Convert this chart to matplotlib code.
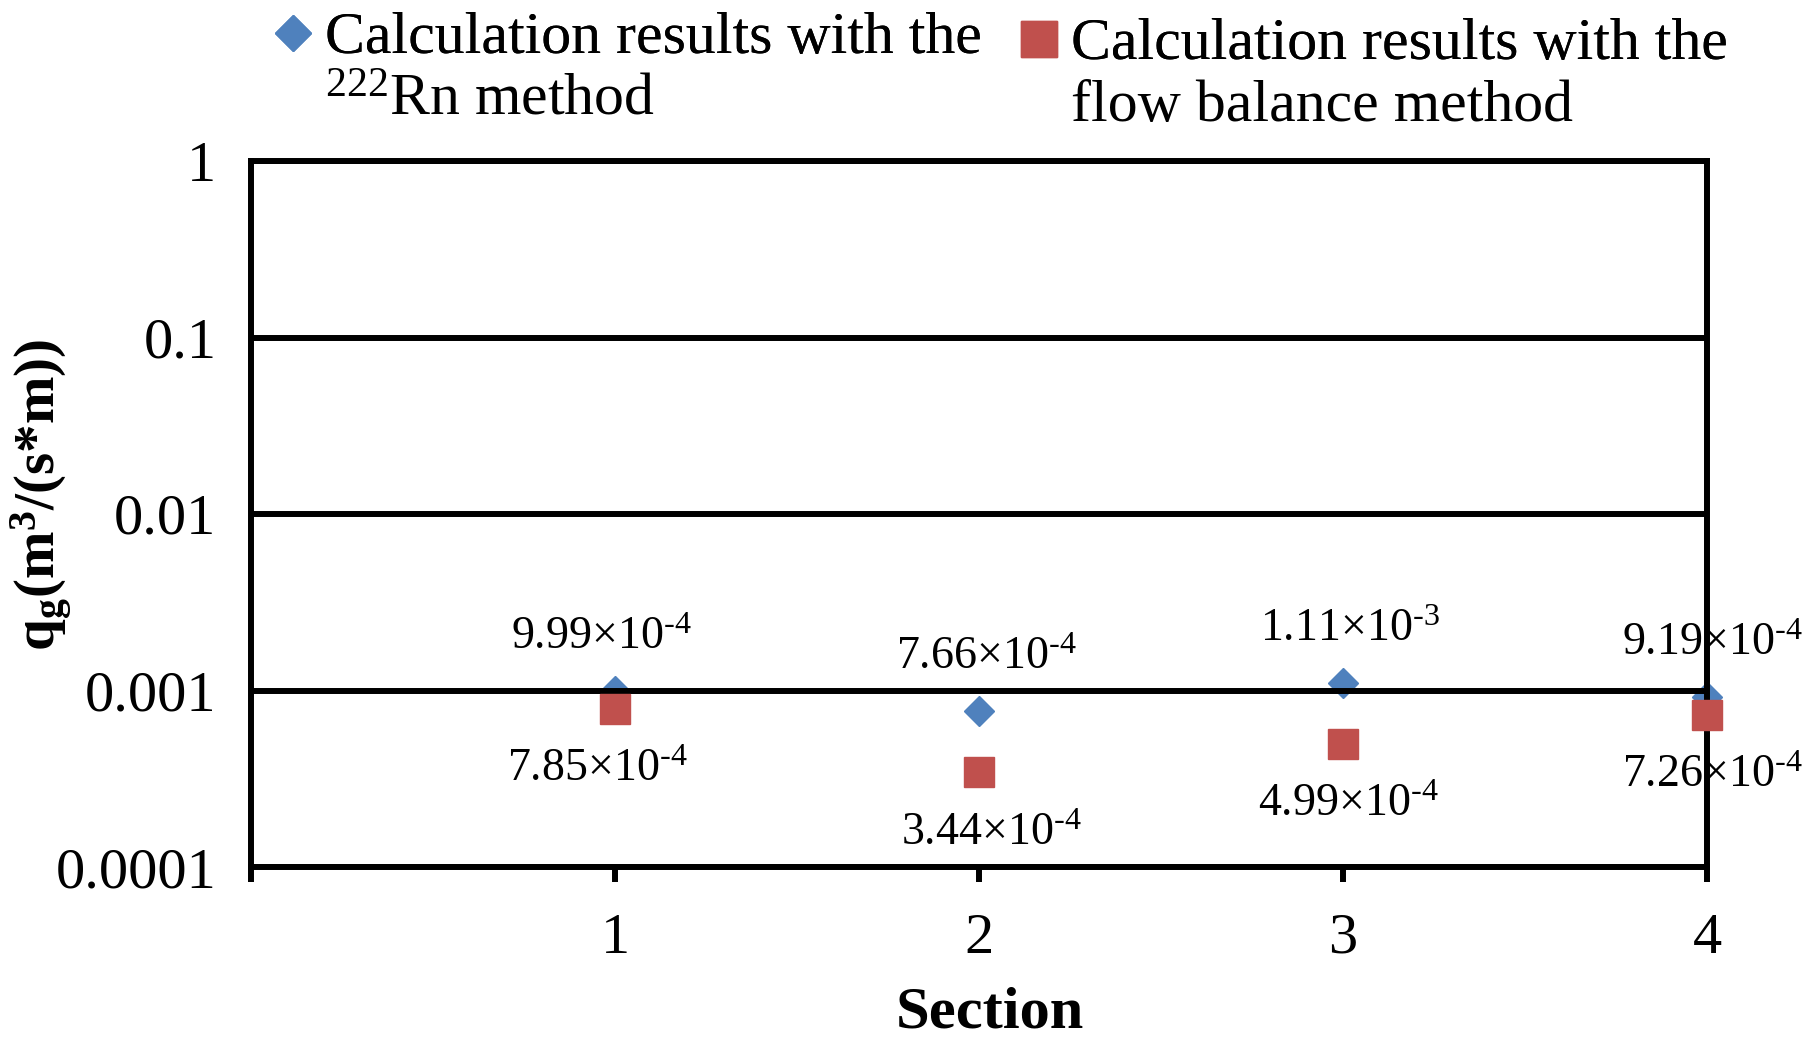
import numpy as np
import matplotlib.pyplot as plt
from matplotlib.ticker import NullLocator

plt.rcParams['font.family'] = ['Liberation Serif', 'DejaVu Serif']
plt.rcParams['mathtext.fontset'] = 'custom'
plt.rcParams['mathtext.rm'] = 'Liberation Serif'
plt.rcParams['mathtext.it'] = 'Liberation Serif:italic'
plt.rcParams['mathtext.bf'] = 'Liberation Serif:bold'

sections = [1, 2, 3, 4]
rn_values = [9.99e-4, 7.66e-4, 1.11e-3, 9.19e-4]
flow_values = [7.85e-4, 3.44e-4, 4.99e-4, 7.26e-4]
xtick_pos = [0, 1, 2, 3, 4]
xtick_labels = ['', '1', '2', '3', '4']
ytick_values = [1e-4, 1e-3, 1e-2, 1e-1, 1]
ytick_labels = ['0.0001', '0.001', '0.01', '0.1', '1']

# small horizontal nudges of the data labels (points), as in the original
rn_dx = [-10, 5, 5, 4]
flow_dx = [-13, 9, 4, 4]

blue = '#4F81BD'
red = '#C0504D'
lw = 4.3


def sci(v):
    e = int(np.floor(np.log10(v)))
    m = v / 10 ** e
    return f'{m:.2f}×10$^{{\\text{{-}}{abs(e)}}}$'


fig = plt.figure(figsize=(18.15, 10.38), dpi=100)
ax = fig.add_axes([251 / 1815, 1 - 867 / 1038, (1707 - 251) / 1815, (867 - 161) / 1038])

h1, = ax.plot(sections, rn_values, ls='none', marker='D', ms=15, color=blue,
              zorder=2, clip_on=False)
h2, = ax.plot(sections, flow_values, ls='none', marker='s', ms=22, color=red,
              zorder=3, clip_on=False)

for x, v, dx in zip(sections, rn_values, rn_dx):
    ax.annotate(sci(v), (x, v), xytext=(dx, 30), textcoords='offset points',
                ha='center', va='baseline', fontsize=33, zorder=5)
for x, v, dx in zip(sections, flow_values, flow_dx):
    ax.annotate(sci(v), (x, v), xytext=(dx, -52), textcoords='offset points',
                ha='center', va='baseline', fontsize=33, zorder=5)

ax.set_yscale('log')
ax.set_ylim(1e-4, 1)
ax.set_xlim(0, 4)
ax.set_yticks(ytick_values)
ax.set_yticklabels(ytick_labels)
ax.yaxis.set_minor_locator(NullLocator())
ax.set_xticks(xtick_pos)
ax.set_xticklabels(xtick_labels)
ax.yaxis.grid(True, color='black', lw=lw)
ax.set_axisbelow(False)
for s in ax.spines.values():
    s.set_linewidth(lw)
    s.set_color('black')
ax.tick_params(axis='x', direction='out', length=11, width=lw, pad=22, labelsize=42)
ax.tick_params(axis='y', length=0, pad=25, labelsize=42)

fig.text(42 / 1815, 1 - 495 / 1038, r'q$_\mathbf{g}$(m$^\mathbf{3}$/(s*m))',
         rotation=90, ha='center', va='center', fontsize=41, fontweight='bold')
fig.text(990 / 1815, 1 - 1013 / 1038, 'Section', ha='center', va='center',
         fontsize=43.5, fontweight='bold')

# legend: first line in the legend, second line hung under the legend text
leg_specs = [
    (h1, 'Calculation results with the', '$^{222}$Rn method', 269, 39),
    (h2, 'Calculation results with the', 'flow balance method', 1015, 45),
]
for handle, line1, line2, lx, ly in leg_specs:
    leg = fig.legend([handle], [line1], loc='center left',
                     bbox_to_anchor=(lx / 1815, 1 - ly / 1038), frameon=False,
                     fontsize=43, handlelength=0.8, handletextpad=0.136,
                     borderpad=0, borderaxespad=0, markerscale=1.2)
    fig.add_artist(leg)
    fig.add_artist(ax.annotate(line2, xy=(0, 0), xycoords=leg.get_texts()[0],
                               xytext=(0, -35), textcoords='offset points',
                               ha='left', va='baseline', fontsize=43,
                               zorder=10, annotation_clip=False))

fig.savefig('out.png', dpi=100)
